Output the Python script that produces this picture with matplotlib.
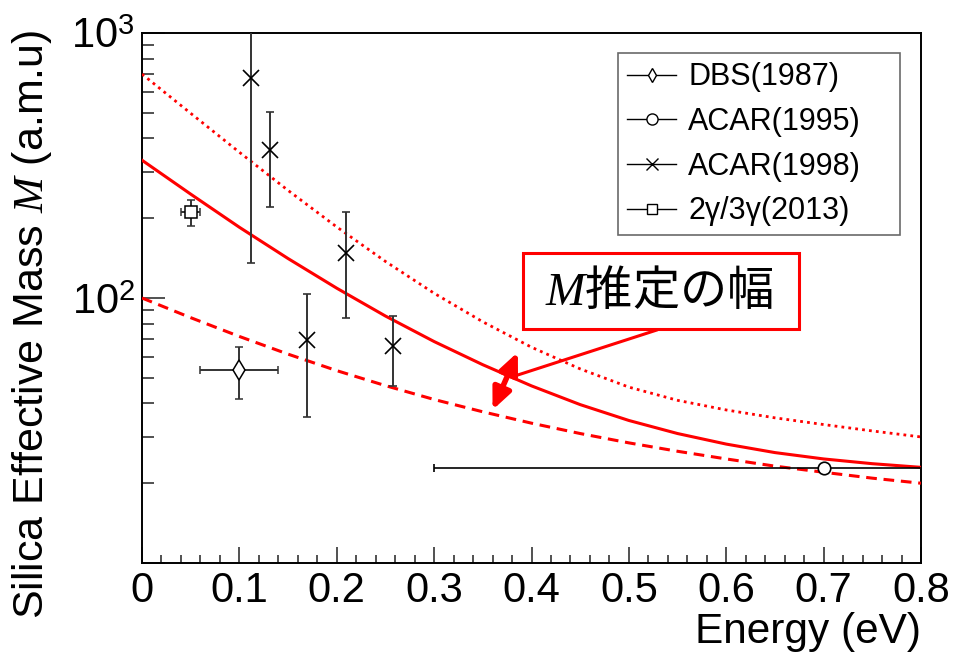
import numpy as np
import matplotlib
matplotlib.use('Agg')
import matplotlib.pyplot as plt
from matplotlib.lines import Line2D
from matplotlib.patches import Rectangle

plt.rcParams['font.family'] = ['Liberation Sans', 'DejaVu Sans']
plt.rcParams['mathtext.fontset'] = 'custom'
plt.rcParams['mathtext.rm'] = 'Liberation Sans'
plt.rcParams['mathtext.it'] = 'Liberation Serif:italic'

# ---- data ----
# DBS(1987)
dbs_e = [0.10]
dbs_m = [53.5]
dbs_ex = [0.04]
dbs_lo = [41.6]
dbs_hi = [65.5]

# ACAR(1995)
acar95_e = [0.70]
acar95_m = [22.9]
acar95_elo = [0.30]
acar95_ehi = [1.10]

# ACAR(1998)
acar98_e = [0.112, 0.131, 0.169, 0.210, 0.258]
acar98_m = [678, 361, 69.5, 148, 66]
acar98_lo = [136, 221, 35.5, 84, 46.6]
acar98_hi = [1100, 502, 103.5, 211, 85.5]

# 2gamma/3gamma(2013)
gg_e = [0.05]
gg_m = [211]
gg_ex = [0.01]
gg_lo = [187.5]
gg_hi = [235]

# model curves (M estimate band)
curve_e = [0.0, 0.05, 0.1, 0.15, 0.2, 0.25, 0.3, 0.35, 0.4,
           0.45, 0.5, 0.55, 0.6, 0.65, 0.7, 0.75, 0.8]
m_central = [331.1, 246.6, 184.9, 140.9, 108.9, 85.5, 68.5, 56.0, 46.6,
             39.6, 34.5, 30.8, 28.1, 26.1, 24.7, 23.7, 22.96]
m_upper = [699.8, 497.7, 354.8, 254.7, 185.4, 137.4, 104.2, 81.3, 65.2,
           54.0, 46.1, 41.1, 37.8, 35.3, 33.3, 31.5, 29.9]
m_lower = [100, 84.3, 71.6, 61.4, 53.2, 46.7, 41.4, 37.2, 33.7,
           30.8, 28.4, 26.4, 24.7, 23.2, 22.0, 20.9, 20.0]

ecol = '#333333'

fig = plt.figure(figsize=(9.55, 6.55), dpi=100)
ax = fig.add_axes([142/955, 92/655, 779/955, 530/655])
ax.set_yscale('log')
ax.set_xlim(0, 0.8)
ax.set_ylim(10, 1000)

# curves
ax.plot(curve_e, m_central, color='red', lw=2.2, zorder=3)
ax.plot(curve_e, m_upper, color='red', lw=2.0, ls=(0, (1, 1.5)), zorder=3)
ax.plot(curve_e, m_lower, color='red', lw=2.2, ls=(0, (3.5, 2.2)), zorder=3)

# data points
def yerr(m, lo, hi):
    m = np.array(m, float)
    return [m - np.array(lo), np.array(hi) - m]

ax.errorbar(dbs_e, dbs_m, xerr=dbs_ex, yerr=yerr(dbs_m, dbs_lo, dbs_hi),
            fmt='d', ms=10, mfc='white', mec='black', mew=1.1,
            ecolor=ecol, elinewidth=1.4, capsize=3, capthick=1.4, zorder=4)
ax.errorbar(acar95_e, acar95_m,
            xerr=[np.array(acar95_e) - acar95_elo, np.array(acar95_ehi) - acar95_e],
            fmt='o', ms=9, mfc='white', mec='black', mew=1.2,
            ecolor='black', elinewidth=1.2, capsize=3, capthick=1.2, zorder=4)
ax.errorbar(acar98_e, acar98_m, yerr=yerr(acar98_m, acar98_lo, acar98_hi),
            fmt='x', ms=11, mec='black', mew=1.2,
            ecolor=ecol, elinewidth=1.4, capsize=3, capthick=1.4, zorder=4)
ax.errorbar(gg_e, gg_m, xerr=gg_ex, yerr=yerr(gg_m, gg_lo, gg_hi),
            fmt='s', ms=8, mfc='white', mec='black', mew=1.1,
            ecolor=ecol, elinewidth=1.4, capsize=3, capthick=1.4, zorder=4)

# axes style
for s in ax.spines.values():
    s.set_linewidth(1.4)
ax.set_xticks(np.arange(0, 0.81, 0.1))
ax.set_xticklabels(['0', '0.1', '0.2', '0.3', '0.4', '0.5', '0.6', '0.7', '0.8'])
ax.set_xticks(np.arange(0, 0.801, 0.02), minor=True)
ax.set_yticks([10, 100, 1000])
ax.set_yticklabels(['', r'$10^{2}$', r'$10^{3}$'])
ax.set_yticks([v * d for d in (10, 100) for v in range(2, 10)], minor=True)
ax.set_yticklabels([], minor=True)
ax.tick_params(which='both', direction='in', top=False, right=False, color=ecol)
ax.tick_params(axis='x', which='major', length=11.5, width=1.2, pad=6, labelsize=30)
ax.tick_params(axis='x', which='minor', length=6, width=1.2)
ax.tick_params(axis='y', which='major', length=16.5, width=1.2, pad=5, labelsize=30)
ax.tick_params(axis='y', which='minor', length=8.6, width=1.2)

fig.text(32/955, 1 - 30/655, r'Silica Effective Mass $M$ (a.m.u)', rotation=90,
         ha='center', va='top', fontsize=31)
fig.text(921/955, 1 - 632/655, 'Energy (eV)', ha='right', va='center', fontsize=30.5)

# legend
handles = [
    Line2D([], [], color='black', lw=1.0, marker='d', ms=7, mfc='white', mec='black'),
    Line2D([], [], color='black', lw=1.0, marker='o', ms=8, mfc='white', mec='black'),
    Line2D([], [], color='black', lw=1.0, marker='x', ms=8, mec='black'),
    Line2D([], [], color='black', lw=1.0, marker='s', ms=7, mfc='white', mec='black'),
]
labels = ['DBS(1987)', 'ACAR(1995)', 'ACAR(1998)', '2\u03b3/3\u03b3(2013)']
leg = ax.legend(handles, labels, loc='upper left',
                bbox_to_anchor=(0.611, 0.623, 0.362, 0.339), mode='expand',
                borderaxespad=0, fontsize=22, frameon=True, fancybox=False,
                handlelength=1.6, handletextpad=0.4, labelspacing=0.48,
                borderpad=0.3)
leg.get_frame().set_edgecolor('#444444')
leg.get_frame().set_linewidth(1.2)

# annotation: width of M estimate
fig.patches.append(Rectangle((523/955, 1 - 329/655), 276/955, 76/655,
                             transform=fig.transFigure, fill=True, fc='white',
                             ec='red', lw=2.2, zorder=5))
fig.text(659/955, 1 - 292/655, r'$M$推定の幅', ha='center', va='center',
         fontsize=34, family=['Noto Sans CJK JP', 'DejaVu Sans'], zorder=6)
ax.annotate('', xy=(0.380, 50.4), xytext=(0.532, 76.4),
            arrowprops=dict(arrowstyle='-', color='red', lw=2.2), zorder=5)
ax.annotate('', xy=(0.386, 62.5), xytext=(0.360, 37.8),
            arrowprops=dict(arrowstyle='<|-|>,head_length=0.9,head_width=0.4',
                            mutation_scale=14, color='red', lw=4,
                            shrinkA=0, shrinkB=0), zorder=5)

fig.savefig('out.png', dpi=100)
